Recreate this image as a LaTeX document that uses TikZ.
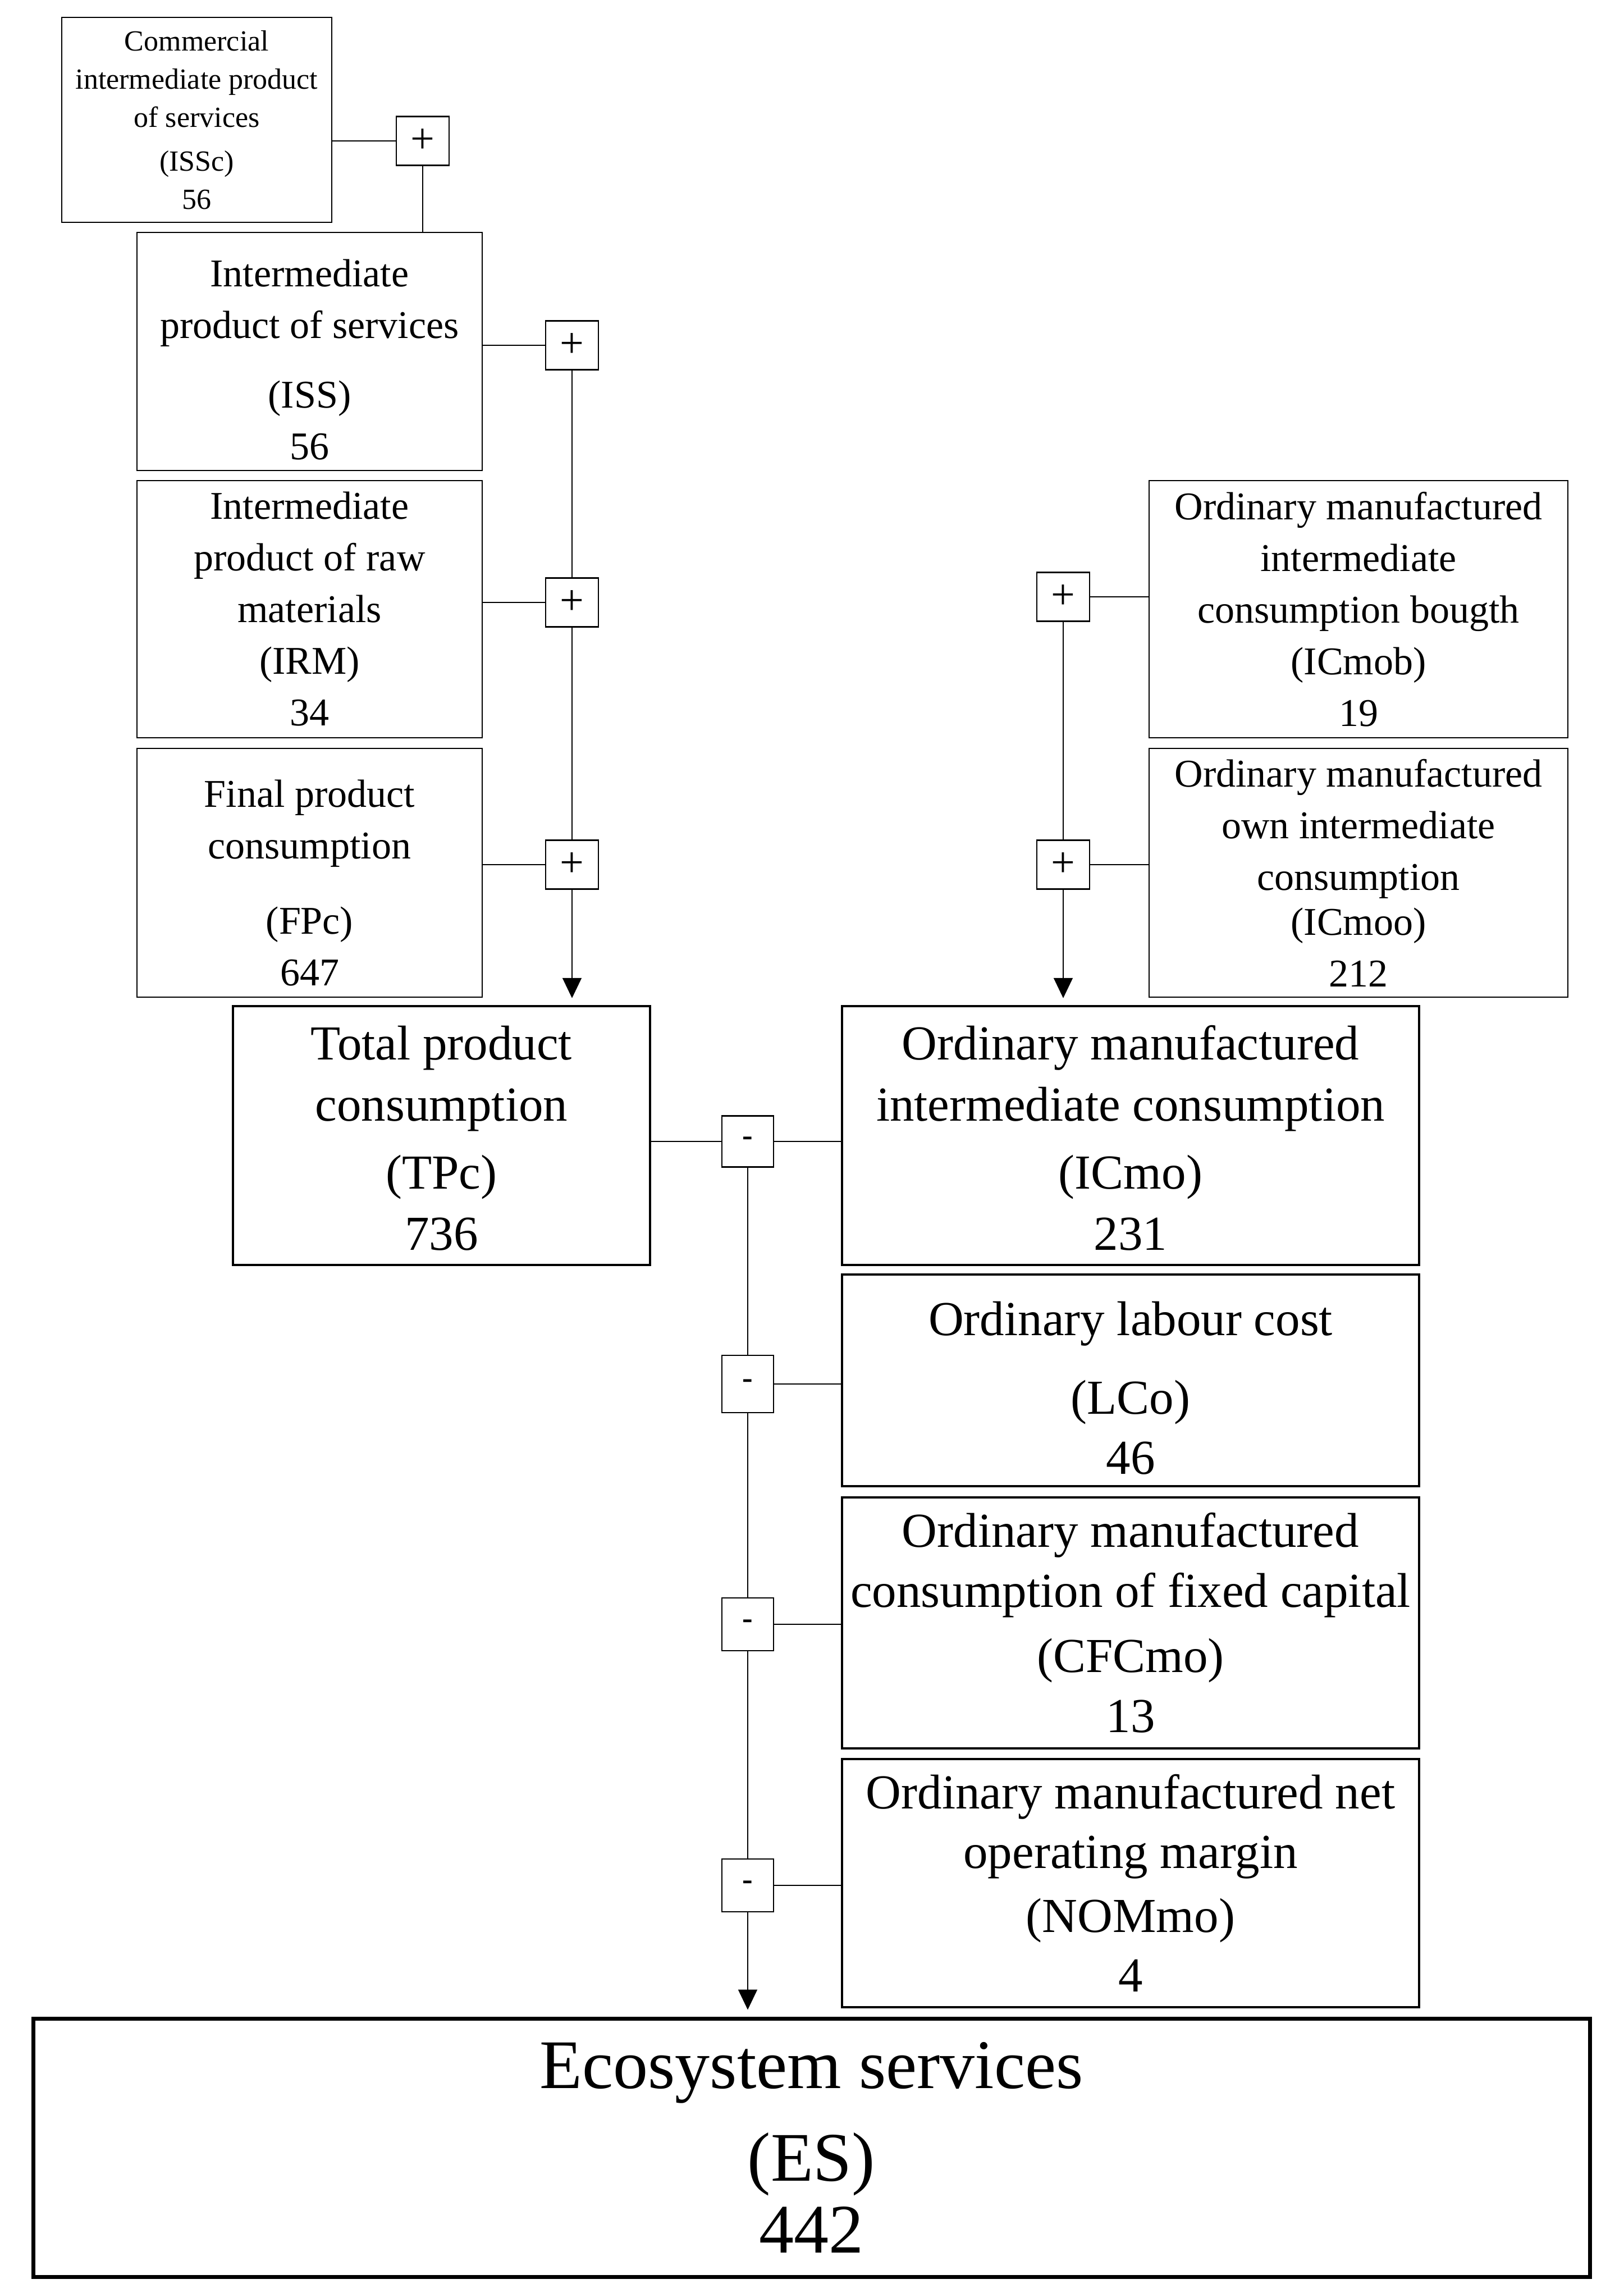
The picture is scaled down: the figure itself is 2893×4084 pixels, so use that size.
\documentclass[tikz,border=0pt]{standalone}
\usepackage{fontspec}
\setmainfont{Liberation Serif}
\usetikzlibrary{arrows.meta}
\begin{document}
\begin{tikzpicture}[x=1pt,y=-1pt,
  smallbox/.style={draw, line width=2.5pt, inner sep=0pt, align=center, font=\fontsize{70}{92}\selectfont},
  bigbox/.style={draw, line width=4.5pt, inner sep=0pt, align=center, minimum width=1028pt, font=\fontsize{87}{109}\selectfont},
  opbox/.style={draw, line width=2.5pt, inner sep=0pt, minimum width=94pt, minimum height=87pt, font=\fontsize{76}{76}\selectfont},
  minbox/.style={draw, line width=2.5pt, inner sep=0pt, minimum width=92pt, minimum height=94pt, font=\fontsize{56}{56}\selectfont\bfseries},
  link/.style={line width=2pt},
  arr/.style={line width=2pt, -{Triangle[length=36pt,width=34pt]}}]
\useasboundingbox (0,0) rectangle (2893,4084);

% left column
\node[smallbox, font=\fontsize{52}{68}\selectfont, minimum width=481pt, minimum height=365pt] (ISSc) at (350.5,213.5)
  {Commercial\\intermediate product\\of services\\[10pt](ISSc)\\56};
\node[smallbox, minimum width=615pt, minimum height=424pt] (ISS) at (551.5,626)
  {\rule{0pt}{78pt}Intermediate\\product of services\\[32pt](ISS)\\56};
\node[smallbox, minimum width=615pt, minimum height=458pt] (IRM) at (551.5,1085)
  {Intermediate\\product of raw\\materials\\(IRM)\\34};
\node[smallbox, minimum width=615pt, minimum height=443pt] (FPc) at (551.5,1554.5)
  {\rule{0pt}{84pt}Final product\\consumption\\[42pt](FPc)\\647};

% right column
\node[smallbox, minimum width=746pt, minimum height=458pt] (ICmob) at (2420,1085)
  {Ordinary manufactured\\intermediate\\consumption bougth\\(ICmob)\\19};
\node[smallbox, minimum width=746pt, minimum height=443pt] (ICmoo) at (2420,1554.5)
  {Ordinary manufactured\\own intermediate\\consumption\\[-12pt](ICmoo)\\212};

% middle
\node[bigbox, minimum width=743pt, minimum height=461pt] (TPc) at (786.5,2022.5)
  {\rule{0pt}{69pt}Total product\\consumption\\[12pt](TPc)\\736};
\node[bigbox, minimum height=461pt] (ICmo) at (2014,2022.5)
  {\rule{0pt}{70pt}Ordinary manufactured\\intermediate consumption\\[12pt](ICmo)\\231};
\node[bigbox, minimum height=377pt, font=\fontsize{87}{107}\selectfont] (LCo) at (2014,2458.5)
  {\rule{0pt}{88pt}Ordinary labour cost\\[33pt](LCo)\\46};
\node[bigbox, minimum height=447pt, font=\fontsize{87}{107}\selectfont] (CFCmo) at (2014,2890.5)
  {Ordinary manufactured\\consumption of fixed capital\\[9pt](CFCmo)\\13};
\node[bigbox, minimum height=442pt, font=\fontsize{87}{106}\selectfont] (NOMmo) at (2014,3354)
  {Ordinary manufactured net\\operating margin\\[8pt](NOMmo)\\4};

% bottom
\node[draw, line width=7pt, inner sep=0pt, align=center, minimum width=2773pt, minimum height=460pt,
  font=\fontsize{124}{128}\selectfont] (ES) at (1445.5,3825)
  {Ecosystem services\\[37pt](ES)\\442};

% operator boxes
\node[opbox] (p1) at (753,251) {+};
\node[opbox] (p2) at (1019,615) {+};
\node[opbox] (p3) at (1019,1073) {+};
\node[opbox] (p4) at (1019,1540) {+};
\node[opbox] (p5) at (1894,1063) {+};
\node[opbox] (p6) at (1894,1540) {+};
\node[minbox, minimum height=91pt] (m1) at (1332,2033) {-};
\node[minbox, minimum height=102pt] (m2) at (1332,2465) {-};
\node[minbox] (m3) at (1332,2893) {-};
\node[minbox] (m4) at (1332,3358) {-};

% connectors left
\draw[link] (ISSc.east |- p1.west) -- (p1.west);
\draw[link] (p1.south) -- (p1.south |- ISS.north);
\draw[link] (ISS.east |- p2.west) -- (p2.west);
\draw[link] (p2.south) -- (p3.north);
\draw[link] (IRM.east |- p3.west) -- (p3.west);
\draw[link] (p3.south) -- (p4.north);
\draw[link] (FPc.east |- p4.west) -- (p4.west);
\draw[arr, shorten >=12pt] (p4.south) -- (p4.south |- TPc.north);

% connectors right
\draw[link] (ICmob.west |- p5.east) -- (p5.east);
\draw[link] (ICmoo.west |- p6.east) -- (p6.east);
\draw[link] (p5.south) -- (p6.north);
\draw[arr, shorten >=12pt] (p6.south) -- (p6.south |- ICmo.north);

% subtraction chain
\draw[link] (TPc.east |- m1.west) -- (m1.west);
\draw[link] (m1.east) -- (m1.east -| ICmo.west);
\draw[link] (m1.south) -- (m2.north);
\draw[link] (m2.east) -- (m2.east -| LCo.west);
\draw[link] (m2.south) -- (m3.north);
\draw[link] (m3.east) -- (m3.east -| CFCmo.west);
\draw[link] (m3.south) -- (m4.north);
\draw[link] (m4.east) -- (m4.east -| NOMmo.west);
\draw[arr, shorten >=12pt] (m4.south) -- (m4.south |- ES.north);
\end{tikzpicture}
\end{document}
